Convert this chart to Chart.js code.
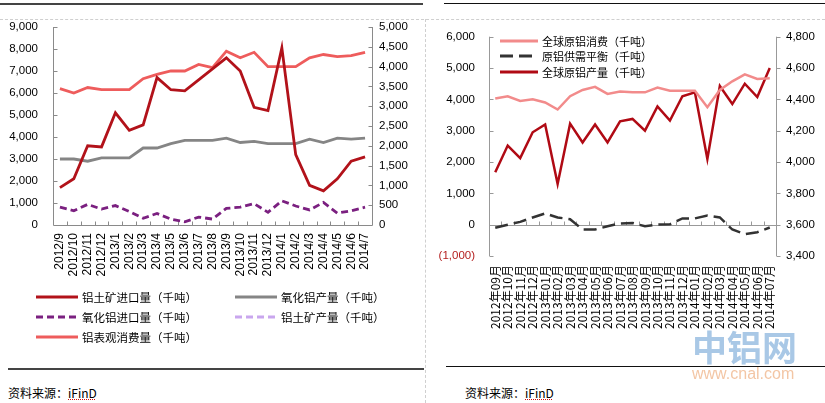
<!DOCTYPE html>
<html>
<head>
<meta charset="utf-8">
<script src="https://cdn.jsdelivr.net/npm/chart.js@4.4.0/dist/chart.umd.min.js"></script>
<style>
  body { margin: 0; width: 825px; height: 403px; overflow: hidden; background: #fff; position: relative;
         font-family: "Noto Sans CJK SC", sans-serif; color: #000; }
  .abs { position: absolute; }
  canvas { position: absolute; }
  .leg { position: absolute; white-space: nowrap; display: flex; align-items: center; }
  .leg svg { margin-right: 4px; }
  .src { position: absolute; font-size: 12px; line-height: 16px; }
  .src span { text-decoration: underline dotted #d01010; }
</style>
</head>
<body>
<div class="abs" style="left:0;top:3px;width:423px;height:2px;background:#444"></div>
<div class="abs" style="left:444px;top:3px;width:381px;height:1px;background:#111"></div>
<div class="abs" style="left:0;top:19px;width:825px;border-top:1px dashed #cfcfcf"></div>
<div class="abs" style="left:425px;top:19px;height:384px;border-left:1px dashed #cfcfcf"></div>
<div class="abs" style="left:8px;top:368px;width:416px;height:2px;background:#444"></div>
<div class="abs" style="left:446px;top:366px;width:379px;height:1px;background:#111"></div>

<canvas id="left" width="420" height="290" style="left:0;top:0"></canvas>
<canvas id="right" width="400" height="330" style="left:425px;top:0"></canvas>
<div id="legLeft"></div>
<div id="legRight"></div>

<div class="abs" style="left:692px;top:328px;font-size:35px;line-height:36px;font-weight:bold;color:#a9c8e6">中铝网</div>
<div class="abs" style="left:692px;top:365px;font-size:16px;line-height:18px;font-family:'Liberation Sans';color:#f3c6a5">www.cnal.com</div>

<div class="src" style="left:8px;top:385px">资料来源：<span>iFinD</span></div>
<div class="src" style="left:465px;top:385px">资料来源：<span>iFinD</span></div>

<script>
// left chart: China bauxite / alumina, 2012/9 - 2014/7
const leftLabels = ['2012/9','2012/10','2012/11','2012/12','2013/1','2013/2','2013/3','2013/4','2013/5','2013/6',
  '2013/7','2013/8','2013/9','2013/10','2013/11','2013/12','2014/1','2014/2','2014/3','2014/4','2014/5','2014/6','2014/7'];
const bauxiteImport = [1700,2100,3600,3550,5100,4300,4550,6700,6150,6100,6600,7100,7600,7000,5350,5200,8050,3200,1800,1550,2100,2900,3100];
const aluminaOutput = [3000,3000,2900,3050,3050,3050,3500,3500,3700,3850,3850,3850,3950,3750,3800,3700,3700,3700,3900,3750,3950,3900,3950];
const aluminaImport = [450,360,520,400,490,340,170,290,150,80,200,150,420,450,540,320,610,480,380,570,300,360,450];
const bauxiteOutput = []; // no points drawn in the source
const apparentUse = [6200,6000,6250,6150,6150,6150,6650,6850,7000,7000,7300,7150,7900,7600,7850,7200,7200,7200,7600,7750,7650,7700,7850];

// right chart: global primary aluminium
const rightLabels = ['2012年09月','2012年10月','2012年11月','2012年12月','2013年01月','2013年02月','2013年03月','2013年04月',
  '2013年05月','2013年06月','2013年07月','2013年08月','2013年09月','2013年10月','2013年11月','2013年12月',
  '2014年01月','2014年02月','2014年03月','2014年04月','2014年05月','2014年06月','2014年07月'];
const globalUse = [4405,4420,4390,4400,4380,4335,4420,4460,4480,4435,4450,4445,4445,4475,4455,4455,4455,4350,4460,4515,4560,4530,4535];
const balance = [-100,0,90,230,360,230,175,-155,-155,-50,40,55,-50,5,10,200,200,290,230,-155,-300,-240,-90];
const globalOutput = [3935,4105,4025,4190,4240,3860,4245,4125,4240,4125,4260,4275,4200,4355,4265,4420,4445,4020,4485,4370,4500,4415,4600];

const leftSets = [
  { label: '铝土矿进口量（千吨）', data: bauxiteImport, color: '#b2121a', dash: [], axis: 'y' },
  { label: '氧化铝产量（千吨）', data: aluminaOutput, color: '#858585', dash: [], axis: 'y' },
  { label: '氧化铝进口量（千吨）', data: aluminaImport, color: '#7b2080', dash: [7, 4], axis: 'y2' },
  { label: '铝土矿产量（千吨）', data: bauxiteOutput, color: '#c9a6ee', dash: [7, 4], axis: 'y2' },
  { label: '铝表观消费量（千吨）', data: apparentUse, color: '#ee5c5c', dash: [], axis: 'y' }
];
const rightSets = [
  { label: '全球原铝消费（千吨）', data: globalUse, color: '#f28b8b', dash: [], axis: 'y2' },
  { label: '原铝供需平衡（千吨）', data: balance, color: '#333333', dash: [13, 6], axis: 'y' },
  { label: '全球原铝产量（千吨）', data: globalOutput, color: '#b00a14', dash: [], axis: 'y2' }
];

function fmt(v) {
  const s = Math.abs(v).toLocaleString('en-US');
  return v < 0 ? '(' + s + ')' : s;
}

// axis lines and short tick marks drawn the Excel way
const axisMarks = {
  id: 'axisMarks',
  beforeDatasetsDraw(chart, args, opts) {
    const ctx = chart.ctx, a = chart.chartArea;
    const x = chart.scales.x, y = chart.scales.y, y2 = chart.scales.y2;
    const L = Math.round(a.left) + 0.5, R = Math.round(a.right) + 0.5;
    ctx.save();
    ctx.strokeStyle = opts.color;
    ctx.lineWidth = 1;
    ctx.beginPath();
    ctx.moveTo(L, a.top); ctx.lineTo(L, a.bottom);
    y.ticks.forEach(t => {
      const p = Math.round(y.getPixelForValue(t.value)) + 0.5;
      ctx.moveTo(L, p); ctx.lineTo(L + 4, p);
    });
    ctx.moveTo(R, a.top); ctx.lineTo(R, a.bottom);
    y2.ticks.forEach(t => {
      const p = Math.round(y2.getPixelForValue(t.value)) + 0.5;
      ctx.moveTo(R, p); ctx.lineTo(R + opts.rightDir * 4, p);
    });
    const base = Math.round(y.getPixelForValue(0)) + 0.5;
    ctx.moveTo(L, base); ctx.lineTo(R, base);
    for (let i = 1; i < x.ticks.length; i++) {
      const p = Math.round((x.getPixelForTick(i - 1) + x.getPixelForTick(i)) / 2) + 0.5;
      ctx.moveTo(p, base); ctx.lineTo(p, base - 4);
    }
    ctx.stroke();
    ctx.restore();
  }
};

function toDatasets(sets, width) {
  return sets.map(s => ({
    label: s.label, data: s.data, yAxisID: s.axis,
    borderColor: s.color, backgroundColor: s.color, borderDash: s.dash,
    borderWidth: width, pointRadius: 0, tension: 0, fill: false
  }));
}

function yAxis(pos, min, max, step, pad, w, colorFn) {
  return {
    position: pos, min: min, max: max,
    grid: { display: false, drawTicks: false }, border: { display: false },
    ticks: { stepSize: step, padding: pad, callback: fmt, color: colorFn || '#000',
             font: { family: 'Liberation Sans', size: 11.5 } },
    afterFit: s => { s.width = w; }
  };
}

function xAxis(pad, h, font) {
  return {
    offset: true, grid: { display: false, drawTicks: false }, border: { display: false },
    ticks: { autoSkip: false, minRotation: 90, maxRotation: 90, padding: pad, color: '#000', font: font },
    afterFit: s => { s.height = h; }
  };
}

new Chart(document.getElementById('left'), {
  type: 'line',
  data: { labels: leftLabels, datasets: toDatasets(leftSets, 2.8) },
  options: {
    responsive: false, animation: false,
    layout: { padding: { top: 27, left: 0, right: 0, bottom: 0 } },
    plugins: { legend: { display: false }, tooltip: { enabled: false },
               axisMarks: { rightDir: -1, color: '#8a8a8a' } },
    scales: {
      x: xAxis(8, 65, { family: 'Liberation Sans', size: 12 }),
      y: yAxis('left', 0, 9000, 1000, 15, 53),
      y2: yAxis('right', 0, 5000, 500, 7, 48)
    }
  },
  plugins: [axisMarks]
});

new Chart(document.getElementById('right'), {
  type: 'line',
  data: { labels: rightLabels, datasets: toDatasets(rightSets, 2.5) },
  options: {
    responsive: false, animation: false,
    layout: { padding: { top: 36.7, left: 0, right: 0, bottom: 0 } },
    plugins: { legend: { display: false }, tooltip: { enabled: false },
               axisMarks: { rightDir: 1, color: '#999999' } },
    scales: {
      x: xAxis(9, 74, { family: 'Noto Sans CJK SC', size: 12 }),
      y: yAxis('left', -1000, 6000, 1000, 14, 64, c => c.tick.value < 0 ? '#b41e1e' : '#000'),
      y2: yAxis('right', 3400, 4800, 200, 10, 49)
    }
  },
  plugins: [axisMarks]
});

// legends built from the same series lists
function legend(id, sets, left, top, cols, colW, rowH, lineW, fontSize) {
  const box = document.getElementById(id);
  sets.forEach((s, i) => {
    const d = document.createElement('div');
    d.className = 'leg';
    d.style.left = (left + (i % cols) * colW) + 'px';
    d.style.top = (top + Math.floor(i / cols) * rowH) + 'px';
    d.style.height = rowH + 'px';
    d.style.fontSize = fontSize + 'px';
    d.innerHTML = '<svg width="' + lineW + '" height="6"><line x1="0" y1="3" x2="' + lineW + '" y2="3" stroke="' +
      s.color + '" stroke-width="3" stroke-dasharray="' + (s.dash.length ? s.dash.join(',') : 'none') + '"/></svg>' + s.label;
    box.appendChild(d);
  });
}
legend('legLeft', leftSets, 36, 287, 2, 199, 20, 42, 11.5);
legend('legRight', rightSets, 500, 33, 1, 0, 15.5, 38, 11);
</script>
</body>
</html>
